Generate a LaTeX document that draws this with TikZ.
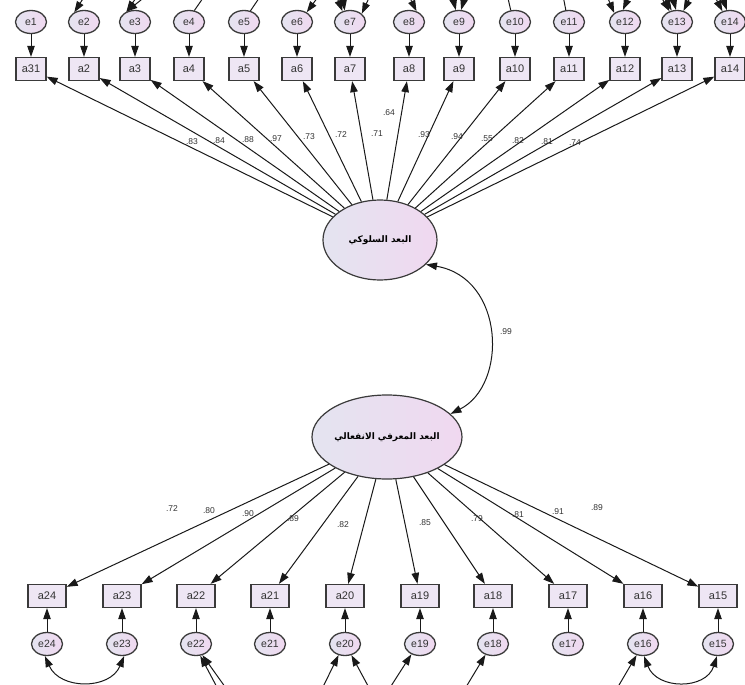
\documentclass[tikz,border=0pt]{standalone}
\usepackage{fontspec}
\setmainfont{Liberation Sans}
\newfontfamily\arabicfont[Script=Arabic]{DejaVu Sans}
\TeXXeTstate=1
\usetikzlibrary{shapes.geometric,arrows.meta}
\definecolor{bord}{HTML}{3A3A3A}
\definecolor{fillL}{HTML}{E4E4F0}
\definecolor{fillR}{HTML}{F0D8F0}
\definecolor{boxfill}{HTML}{EEE6F4}
\definecolor{labc}{HTML}{333333}
\tikzset{
  obs/.style={rectangle, draw=bord, line width=1.3pt, fill=boxfill, minimum height=23pt, inner sep=1pt, font=\fontsize{11}{11}\selectfont, text=black!80},
  obstop/.style={obs, minimum width=30pt},
  obsbot/.style={obs, minimum width=38pt},
  err/.style={ellipse, draw=bord, line width=1.3pt, left color=fillL, right color=fillR, minimum width=31pt, minimum height=23pt, inner sep=0pt, font=\fontsize{10.5}{10.5}\selectfont, text=black!80},
  lat/.style={ellipse, draw=bord, line width=1.2pt, left color=fillL, right color=fillR, inner sep=0pt},
  arr/.style={-{Triangle[length=11pt,width=7.5pt]}, line width=1pt, black!90},
  arrtwo/.style={{Triangle[length=11pt,width=7.5pt]}-{Triangle[length=11pt,width=7.5pt]}, line width=1pt, black!90},
  plain/.style={line width=1pt, black!90},
  lab/.style={font=\fontsize{8.5}{8.5}\selectfont, text=labc, inner sep=0pt}
}
\begin{document}
\begin{tikzpicture}[x=1pt,y=-1pt]
\useasboundingbox (0,0) rectangle (745,685);
\clip (0,0) rectangle (745,685);
% latent variables
\node[lat, minimum width=114pt, minimum height=80pt] (U) at (380,240) {\arabicfont\bfseries\fontsize{9}{9}\selectfont\beginR البعد السلوكي\endR};
\node[lat, minimum width=150pt, minimum height=84pt] (L) at (387,437) {\arabicfont\bfseries\fontsize{9}{9}\selectfont\beginR البعد المعرفي الانفعالي\endR};
% top row
\foreach \a/\e/\x in {a31/e1/31, a2/e2/84, a3/e3/135, a4/e4/189, a5/e5/244, a6/e6/297, a7/e7/350, a8/e8/409, a9/e9/459, a10/e10/515, a11/e11/569, a12/e12/625, a13/e13/677, a14/e14/730}{
  \node[obstop] (\a) at (\x,69) {\a};
  \node[err] (\e) at (\x,22) {\e};
  \draw[arr] (\e) -- (\a);
  \draw[arr] (U) -- (\a);
}
% bottom row
\foreach \a/\e/\x in {a24/e24/47, a23/e23/122, a22/e22/196, a21/e21/270, a20/e20/345, a19/e19/420, a18/e18/493, a17/e17/568, a16/e16/643, a15/e15/718}{
  \node[obsbot] (\a) at (\x,596) {\a};
  \node[err] (\e) at (\x,644) {\e};
  \draw[arr] (\e) -- (\a);
  \draw[arr] (L) -- (\a);
}
% loadings top
\foreach \t/\x/\y in {.83/192/142, .84/219/141, .88/248/140, .97/276/139, .73/309/137, .72/341/135, .71/377/134, .64/389/113, .93/424/135, .94/457/137, .55/487/139, .82/518/141, .81/547/142, .74/575/143}{
  \node[lab] at (\x,\y) {\t};
}
% loadings bottom
\foreach \t/\x/\y in {.72/172/509, .80/209/511, .90/248/514, .89/293/519, .82/343/525, .85/425/523, .79/477/519, .81/518/515, .91/558/512, .89/597/508}{
  \node[lab] at (\x,\y) {\t};
}
% factor covariance
\draw[arrtwo] (U.-28) .. controls (505,278) and (508,385) .. (L.20);
\node[lab] at (506,332) {.99};
% error covariances leaving the top edge
\draw[arr] (100,-25) .. controls (86,-6) .. (e2.135);
\draw[arr] (172,-25) -- (e3.130);
\draw[arr] (152,-25) -- (e3.130);
\draw[plain] (e4.65) -- (212,-15);
\draw[plain] (e5.60) -- (268,-15);
\draw[arr] (332,-22) -- (e6.45);
\draw[arr] (330,-20) -- (e7.125);
\draw[arr] (340,-22) -- (e7.115);
\draw[arr] (378,-22) -- (e7.35);
\draw[arr] (400,-22) -- (e8.55);
\draw[arr] (448,-22) -- (e9.105);
\draw[arr] (470,-22) -- (e9.80);
\draw[plain] (e10.110) -- (505,-15);
\draw[plain] (e11.105) -- (561,-15);
\draw[arr] (600,-20) -- (e12.140);
\draw[arrtwo] (e12.100) .. controls (632,-10) and (660,-10) .. (e13.115);
\draw[arr] (650,-22) -- (e13.125);
\draw[arr] (668,-22) -- (e13.95);
\draw[arr] (700,-22) -- (e13.60);
\draw[arr] (705,-22) -- (e14.125);
\draw[arr] (716,-22) -- (e14.105);
% error covariances leaving the bottom edge
\draw[arrtwo] (e24.-100) .. controls (60,690) and (110,690) .. (e23.-80);
\draw[arr] (238,705) -- (e22.-60);
\draw[arr] (228,708) -- (e22.-70);
\draw[arr] (318,697) -- (e20.-120);
\draw[arr] (374,697) -- (e20.-60);
\draw[arr] (384,697) -- (e19.-130);
\draw[arr] (460,697) -- (e18.-125);
\draw[arr] (612,697) -- (e16.-120);
\draw[arrtwo] (e16.-85) .. controls (657,690) and (706,690) .. (e15.-95);
\end{tikzpicture}
\end{document}
